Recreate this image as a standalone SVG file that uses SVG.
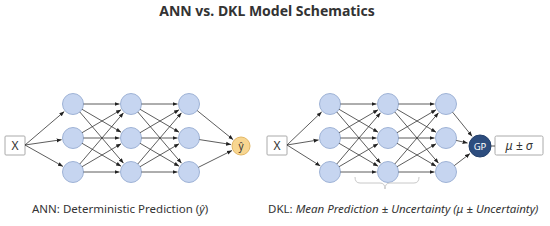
<svg xmlns="http://www.w3.org/2000/svg" width="550" height="226" viewBox="0 0 550 226">
<defs>
<marker id="ah" viewBox="0 0 10 10" refX="10" refY="5" markerWidth="5" markerHeight="5" orient="auto" markerUnits="userSpaceOnUse">
<path d="M0,1 L10,5 L0,9 z" fill="#222"/>
</marker>
<style>
.n{fill:#c6d5f0;stroke:#9fb3d6;stroke-width:1}
.c line{stroke:#333;stroke-width:0.8;marker-end:url(#ah)}
.box{fill:#fff;stroke:#aaa;stroke-width:1}
.t{font-family:"Noto Sans","DejaVu Sans",sans-serif;fill:#333}
</style>
</defs>
<rect width="550" height="226" fill="#fff"/>
<text class="t" x="267" y="16" text-anchor="middle" font-size="14" font-weight="bold">ANN vs. DKL Model Schematics</text>

<g id="ann-x"><rect class="box" x="5" y="136" width="20" height="19" rx="1"/><text class="t" x="15" y="150" text-anchor="middle" font-size="12">X</text></g>
<g id="ann-l1"><circle class="n" cx="73" cy="104" r="10.5"/><circle class="n" cx="73" cy="138" r="10.5"/><circle class="n" cx="73" cy="172" r="10.5"/></g>
<g id="ann-l2"><circle class="n" cx="131" cy="104" r="10.5"/><circle class="n" cx="131" cy="138" r="10.5"/><circle class="n" cx="131" cy="172" r="10.5"/></g>
<g id="ann-l3"><circle class="n" cx="189" cy="104" r="10.5"/><circle class="n" cx="189" cy="138" r="10.5"/><circle class="n" cx="189" cy="172" r="10.5"/></g>
<g id="ann-y"><circle cx="241" cy="146" r="9" fill="#f8d690" stroke="#e3b765" stroke-width="1"/><text class="t" x="241" y="150" text-anchor="middle" font-size="10">ŷ</text></g>

<g id="dkl-x"><rect class="box" x="267" y="136" width="20" height="19" rx="1"/><text class="t" x="277" y="150" text-anchor="middle" font-size="12">X</text></g>
<g id="dkl-l1"><circle class="n" cx="330" cy="104" r="10.5"/><circle class="n" cx="330" cy="138" r="10.5"/><circle class="n" cx="330" cy="172" r="10.5"/></g>
<g id="dkl-l2"><circle class="n" cx="388" cy="104" r="10.5"/><circle class="n" cx="388" cy="138" r="10.5"/><circle class="n" cx="388" cy="172" r="10.5"/></g>
<g id="dkl-l3"><circle class="n" cx="446" cy="104" r="10.5"/><circle class="n" cx="446" cy="138" r="10.5"/><circle class="n" cx="446" cy="172" r="10.5"/></g>
<g id="dkl-gp"><circle cx="480" cy="146" r="11" fill="#2d4d7e" stroke="#23406c" stroke-width="1"/><text x="480" y="149.5" text-anchor="middle" font-size="9.5" font-family="Noto Sans, DejaVu Sans, sans-serif" fill="#fff">GP</text></g>
<g id="dkl-out"><rect class="box" x="495" y="136" width="48" height="19" rx="1.5"/><text class="t" x="519" y="150" text-anchor="middle" font-size="12" font-style="italic">μ ± σ</text></g>

<g id="connectors" class="c">
<line x1="25" y1="145" x2="64.3" y2="111.5"/>
<line x1="25" y1="145" x2="61.6" y2="139.7"/>
<line x1="25" y1="145" x2="63" y2="166.4"/>
<line x1="83.5" y1="104" x2="119.5" y2="104"/>
<line x1="82.06" y1="109.31" x2="121.08" y2="132.18"/>
<line x1="79.81" y1="111.99" x2="123.54" y2="163.25"/>
<line x1="82.06" y1="132.69" x2="121.08" y2="109.82"/>
<line x1="83.5" y1="138" x2="119.5" y2="138"/>
<line x1="82.06" y1="143.31" x2="121.08" y2="166.18"/>
<line x1="79.81" y1="164.01" x2="123.54" y2="112.75"/>
<line x1="82.06" y1="166.69" x2="121.08" y2="143.82"/>
<line x1="83.5" y1="172" x2="119.5" y2="172"/>
<line x1="141.5" y1="104" x2="177.5" y2="104"/>
<line x1="140.06" y1="109.31" x2="179.08" y2="132.18"/>
<line x1="137.81" y1="111.99" x2="181.54" y2="163.25"/>
<line x1="140.06" y1="132.69" x2="179.08" y2="109.82"/>
<line x1="141.5" y1="138" x2="177.5" y2="138"/>
<line x1="140.06" y1="143.31" x2="179.08" y2="166.18"/>
<line x1="137.81" y1="164.01" x2="181.54" y2="112.75"/>
<line x1="140.06" y1="166.69" x2="179.08" y2="143.82"/>
<line x1="141.5" y1="172" x2="177.5" y2="172"/>
<line x1="197.2" y1="110.6" x2="233.2" y2="139.7"/>
<line x1="199.4" y1="139.6" x2="231.1" y2="144.5"/>
<line x1="198.4" y1="167.3" x2="232" y2="150.5"/>

<line x1="287" y1="145" x2="321.7" y2="111.9"/>
<line x1="287" y1="145" x2="318.6" y2="139.9"/>
<line x1="287" y1="145" x2="320.3" y2="165.9"/>
<line x1="340.5" y1="104" x2="376.5" y2="104"/>
<line x1="339.06" y1="109.31" x2="378.08" y2="132.18"/>
<line x1="336.81" y1="111.99" x2="380.54" y2="163.25"/>
<line x1="339.06" y1="132.69" x2="378.08" y2="109.82"/>
<line x1="340.5" y1="138" x2="376.5" y2="138"/>
<line x1="339.06" y1="143.31" x2="378.08" y2="166.18"/>
<line x1="336.81" y1="164.01" x2="380.54" y2="112.75"/>
<line x1="339.06" y1="166.69" x2="378.08" y2="143.82"/>
<line x1="340.5" y1="172" x2="376.5" y2="172"/>
<line x1="398.5" y1="104" x2="434.5" y2="104"/>
<line x1="397.06" y1="109.31" x2="436.08" y2="132.18"/>
<line x1="394.81" y1="111.99" x2="438.54" y2="163.25"/>
<line x1="397.06" y1="132.69" x2="436.08" y2="109.82"/>
<line x1="398.5" y1="138" x2="434.5" y2="138"/>
<line x1="397.06" y1="143.31" x2="436.08" y2="166.18"/>
<line x1="394.81" y1="164.01" x2="438.54" y2="112.75"/>
<line x1="397.06" y1="166.69" x2="436.08" y2="143.82"/>
<line x1="398.5" y1="172" x2="434.5" y2="172"/>
<line x1="452.6" y1="112.2" x2="472.1" y2="136.3"/>
<line x1="456.2" y1="140.4" x2="467.6" y2="143.1"/>
<line x1="454.3" y1="165.6" x2="470" y2="153.6"/>
<path d="M491,146 L495,146" stroke="#555" stroke-width="1" fill="none"/>
<path d="M355,177 Q355,183 360,183 L380,183 Q385,183 385,189 Q385,183 390,183 L414,183 Q419,183 419,177" stroke="#c8c8c8" stroke-width="1" fill="none"/>
</g>

<text class="t" x="32" y="213" font-size="11.5">ANN: Deterministic Prediction (<tspan font-style="italic">ŷ</tspan>)</text>
<text class="t" x="268" y="213" font-size="11.5">DKL: <tspan font-style="italic">Mean Prediction ± Uncertainty (μ ± Uncertainty)</tspan></text>
</svg>
